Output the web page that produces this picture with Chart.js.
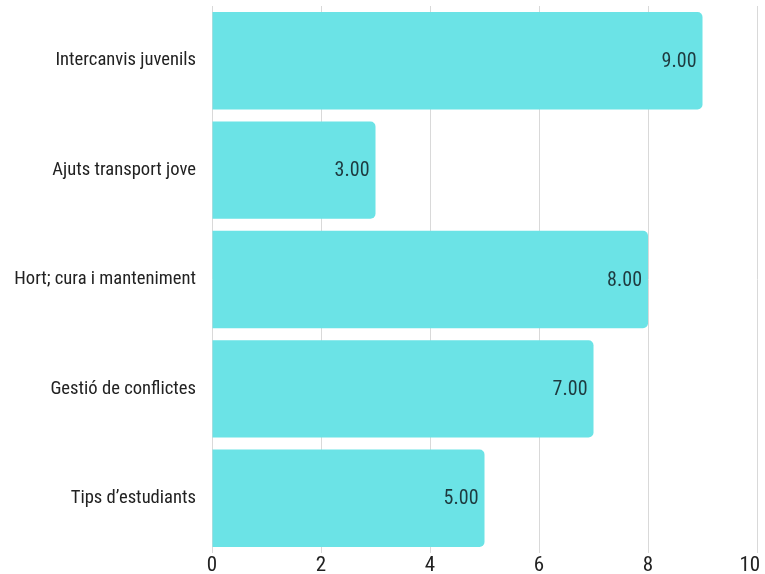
<!DOCTYPE html>
<html>
<head>
<meta charset="utf-8">
<script src="https://cdn.jsdelivr.net/npm/chart.js@4"></script>
<style>
  html, body { margin: 0; padding: 0; background: #fff; }
  #wrap { width: 765px; height: 574px; }
</style>
</head>
<body>
<div id="wrap"><canvas id="chart"></canvas></div>
<script>
const categories = ['Intercanvis juvenils', 'Ajuts transport jove', 'Hort; cura i manteniment', 'Gestió de conflictes', 'Tips d\u2019estudiants'];
const values = [9, 3, 8, 7, 5];
const xTicks = [0, 2, 4, 6, 8, 10];

const FONT = '"Roboto Condensed", "DejaVu Sans Condensed", Roboto, sans-serif';

// etiquetes de valor dins de la barra
const valueLabels = {
    id: 'valueLabels',
    afterDatasetsDraw(chart) {
        const ctx = chart.ctx;
        const meta = chart.getDatasetMeta(0);
        ctx.save();
        ctx.font = '20px ' + FONT;
        ctx.fillStyle = '#1e3a3f';
        ctx.textAlign = 'right';
        ctx.textBaseline = 'middle';
        meta.data.forEach((bar, i) => {
            ctx.fillText(values[i].toFixed(2), bar.x - 6, bar.y + 1);
        });
        ctx.restore();
    }
};

const chart = new Chart(document.getElementById('chart'), {
    type: 'bar',
    data: {
        labels: categories,
        datasets: [{
            data: values,
            backgroundColor: '#6be3e6',
            borderRadius: { topRight: 5, bottomRight: 5 },
            borderSkipped: false,
            categoryPercentage: 1,
            barPercentage: 0.89
        }]
    },
    options: {
        indexAxis: 'y',
        responsive: true,
        maintainAspectRatio: false,
        animation: false,
        layout: { padding: { top: 6, left: 0, right: 8, bottom: 0 } },
        plugins: { legend: { display: false }, tooltip: { enabled: false } },
        scales: {
            x: {
                min: 0,
                max: 10,
                afterBuildTicks: axis => { axis.ticks = xTicks.map(v => ({ value: v })); },
                afterFit: axis => { axis.height = 21; axis.paddingRight = 0; axis.paddingLeft = 0; },
                grid: { color: '#d9d9d9', drawTicks: false },
                border: { display: false },
                ticks: {
                    color: '#222', padding: 0, font: { family: FONT, size: 21 },
                    // la darrera etiqueta queda una mica a l'esquerra per no tallar-se
                    callback: v => v === xTicks[xTicks.length - 1] ? v + '   ' : v
                }
            },
            y: {
                grid: { display: false },
                border: { display: false },
                afterFit: axis => { axis.width = 212; axis.paddingTop = 0; axis.paddingBottom = 0; },
                ticks: { color: '#222', padding: 8, font: { family: FONT, size: 18.6 } }
            }
        }
    },
    plugins: [valueLabels]
});
</script>
</body>
</html>
